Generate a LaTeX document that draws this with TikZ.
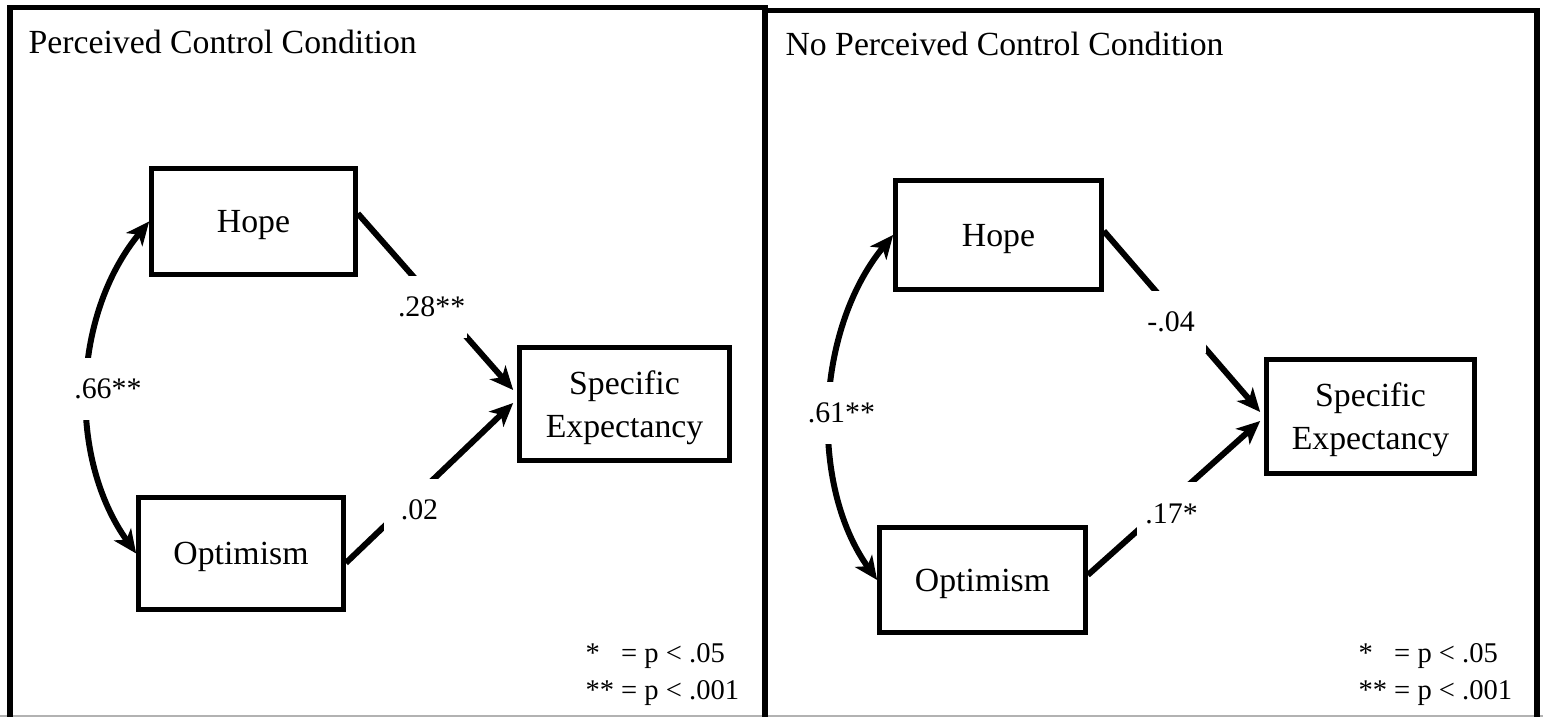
\documentclass[tikz,border=0pt]{standalone}
\usepackage{fontspec}
\setmainfont{Liberation Serif}
\usetikzlibrary{arrows.meta,calc}

\newcommand{\pxu}{0.385pt}

\begin{document}
\begin{tikzpicture}[x=\pxu, y=-\pxu, line join=miter,
  every node/.style={font=\fontsize{13}{16.5}\selectfont},
  frame/.style={line width=2.2pt},
  var/.style={draw, line width=1.8pt, align=center, inner sep=0pt, text depth=0pt},
  coef/.style={fill=white, inner sep=0pt, minimum width=70*\pxu, minimum height=62*\pxu, font=\fontsize{11.5}{14}\selectfont},
  reg/.style={line width=2.3pt, -{Stealth[length=9pt,width=8pt,inset=2.5pt]}},
  cov/.style={line width=2.3pt, {Stealth[length=9pt,width=8pt,inset=2.5pt]}-{Stealth[length=9pt,width=8pt,inset=2.5pt]}},
  note/.style={font=\fontsize{11}{14.6}\selectfont, anchor=base west, inner sep=0pt}]

\fill[white] (0,0) rectangle (1543,717);
\useasboundingbox (0,0) rectangle (1543,717);
\draw[gray!60, line width=0.5pt] (0,716) -- (1543,716);

% perceived control
\draw[frame] (10,717) -- (10,7.5) -- (765,7.5) -- (765,717);
\node[anchor=base west, inner sep=0pt] (titleA) at (28,53) {Perceived Control Condition};
\node[var, minimum width=204*\pxu, minimum height=106*\pxu] (hopeA) at (253.5,221.5) {Hope};
\node[var, minimum width=205*\pxu, minimum height=112*\pxu] (optA) at (241,553.5) {Optimism};
\node[var, minimum width=210*\pxu, minimum height=113*\pxu] (expA) at (624.5,404) {Specific\\Expectancy};

\draw[reg] ($(hopeA.east)+(0,-8)$) -- node[coef, pos=.475, yshift=-9.7*\pxu] {.28**} ($(expA.west)+(-4,-14)$);
\draw[reg] ($(optA.east)+(0,9.5)$) -- node[coef, pos=.44, yshift=-17*\pxu] {.02} ($(expA.west)+(-4,-1)$);
\draw[cov] (hopeA.west) .. controls +(-78,95) and +(-68,-95) .. (optA.west)
  node[coef, pos=.5, xshift=20*\pxu, yshift=-1.5*\pxu] {.66**};

\node[note] (keyA) at (585,662) {\begin{tabular}[t]{@{}l@{\ }l@{}}*&= p < .05\\ {**}&= p < .001\end{tabular}};

% no perceived control
\draw[frame] (765,10.5) -- (1537,10.5) -- (1537,717);
\node[anchor=base west, inner sep=0pt] (titleB) at (785,56) {No Perceived Control Condition};
\node[var, minimum width=206*\pxu, minimum height=109*\pxu] (hopeB) at (998.5,235) {Hope};
\node[var, minimum width=206*\pxu, minimum height=105*\pxu] (optB) at (982.5,580) {Optimism};
\node[var, minimum width=208*\pxu, minimum height=114*\pxu] (expB) at (1370.5,416.5) {Specific\\Expectancy};

\draw[reg] ($(hopeB.east)+(0,-4)$) -- node[coef, pos=.43, yshift=-13*\pxu] {-.04} ($(expB.west)+(-4,-4.5)$);
\draw[reg] ($(optB.east)+(0,-5)$) -- node[coef, pos=.486, yshift=-13.3*\pxu] {.17*} ($(expB.west)+(-4,4.5)$);
\draw[cov] (hopeB.west) .. controls +(-78,95) and +(-68,-95) .. (optB.west)
  node[coef, pos=.5, xshift=11*\pxu, yshift=-5.5*\pxu] {.61**};

\node[note] (keyB) at (1358,662) {\begin{tabular}[t]{@{}l@{\ }l@{}}*&= p < .05\\ {**}&= p < .001\end{tabular}};
\end{tikzpicture}
\end{document}
